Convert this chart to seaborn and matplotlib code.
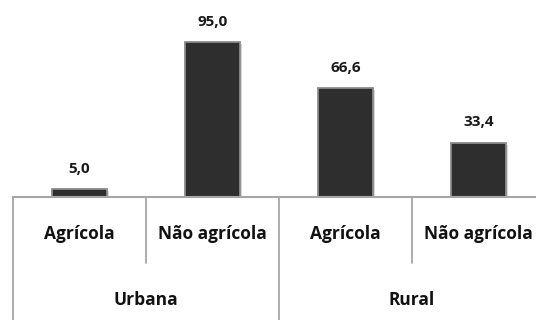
import matplotlib
matplotlib.use("Agg")
import matplotlib.pyplot as plt
import matplotlib.transforms as mtransforms
import matplotlib.patheffects as pe
import seaborn as sns
import pandas as pd

groups = ["Urbana", "Urbana", "Rural", "Rural"]
sectors = ["Agrícola", "Não agrícola", "Agrícola", "Não agrícola"]
values = [5.0, 95.0, 66.6, 33.4]
value_labels = ["5,0", "95,0", "66,6", "33,4"]
group_names = ["Urbana", "Rural"]

keys = [f"{g}|{s}" for g, s in zip(groups, sectors)]
df = pd.DataFrame({"key": keys, "value": values})

sns.set_theme(style="white")
plt.rcParams["font.family"] = ["Open Sans", "DejaVu Sans"]

W, H = 536, 320
fig = plt.figure(figsize=(W / 100, H / 100), dpi=100)
x0, x1 = 13, 545
base = 197
ax = fig.add_axes([x0 / W, 1 - base / H, (x1 - x0) / W, base / H])

sns.barplot(data=df, x="key", y="value", order=keys, color="#2e2e2e",
            width=0.41, edgecolor="#8c8c8c", linewidth=1.3, ax=ax,
            saturation=1)
for p in ax.patches:
    p.set_path_effects([pe.SimplePatchShadow(offset=(1.5, -1.5), shadow_rgbFace="#bdbdbd", alpha=0.6), pe.Normal()])

ax.set_xlim(-0.5, 3.5)
ax.set_ylim(0, base / 1.6316)
ax.set_xlabel("")
ax.set_ylabel("")
ax.set_xticks([])
ax.set_yticks([])
for s in ["left", "top", "right"]:
    ax.spines[s].set_visible(False)
ax.spines["bottom"].set_color("#a6a6a6")
ax.spines["bottom"].set_linewidth(1.5)

for i, lab in enumerate(value_labels):
    ax.annotate(lab, (i, values[i]), xytext=(0, 9.5), textcoords="offset points",
                ha="center", va="bottom", fontsize=11, fontweight="bold", color="#1a1a1a")

trans = mtransforms.blended_transform_factory(ax.transData, ax.transAxes)
full = -(H - base) / base
inner = -(263 - base) / base
for xv, yb in [(-0.5, full), (0.5, inner), (1.5, full), (2.5, inner)]:
    ax.plot([xv, xv], [0, yb], color="#a6a6a6", lw=1.3, transform=trans, clip_on=False)

y_cat = -(234 - base) / base
y_grp = -(300 - base) / base
for i, s in enumerate(sectors):
    ax.text(i, y_cat, s, transform=trans, ha="center", va="center",
            fontsize=12.5, fontweight="bold", color="#111111")
for j, g in enumerate(group_names):
    ax.text(2 * j + 0.5, y_grp, g, transform=trans, ha="center", va="center",
            fontsize=12.5, fontweight="bold", color="#111111")

fig.savefig("out.png", dpi=100)
